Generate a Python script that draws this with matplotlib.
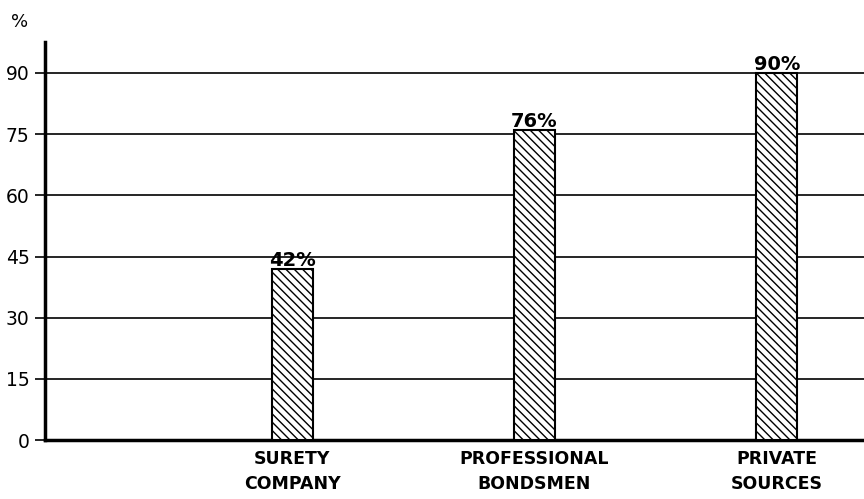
import numpy as np
import matplotlib.pyplot as plt

categories = ["SURETY\nCOMPANY", "PROFESSIONAL\nBONDSMEN", "PRIVATE\nSOURCES"]
percents = [42, 76, 90]
yticks = [0, 15, 30, 45, 60, 75, 90]

plt.rcParams['font.family'] = 'DejaVu Sans'
plt.rcParams['hatch.linewidth'] = 1.0

fig = plt.figure(figsize=(8.64, 4.99), dpi=100)
ax = fig.add_axes([0.052, 0.118, 0.948, 0.798])

x = np.arange(1, len(percents) + 1)
bars = ax.bar(x, percents, width=0.17, facecolor='white', edgecolor='black',
              linewidth=1.5, hatch='\\\\\\\\', zorder=3)

for xi, p in zip(x, percents):
    ax.text(xi, p - 0.2, f"{p}%", ha='center', va='bottom', fontsize=14,
            fontweight='bold', zorder=4)

ax.set_xlim(-0.02, 3.36)
ax.set_ylim(0, 97.6)
ax.set_yticks(yticks)
ax.set_yticklabels([str(t) for t in yticks], fontsize=13.5)
ax.set_xticks(x)
ax.set_xticklabels(categories, fontsize=12.5, fontweight='bold', linespacing=1.5)
ax.tick_params(axis='x', length=0, pad=7)
ax.tick_params(axis='y', length=7, width=1.2, pad=4)

ax.yaxis.grid(True, color='black', linewidth=1.2, zorder=1)
ax.set_axisbelow(True)

for side in ['top', 'right']:
    ax.spines[side].set_visible(False)
ax.spines['left'].set_linewidth(2.5)
ax.spines['bottom'].set_linewidth(2.5)

fig.text(0.023, 0.955, "%", fontsize=13, ha='center', va='center')

fig.savefig("out.png", dpi=100)
